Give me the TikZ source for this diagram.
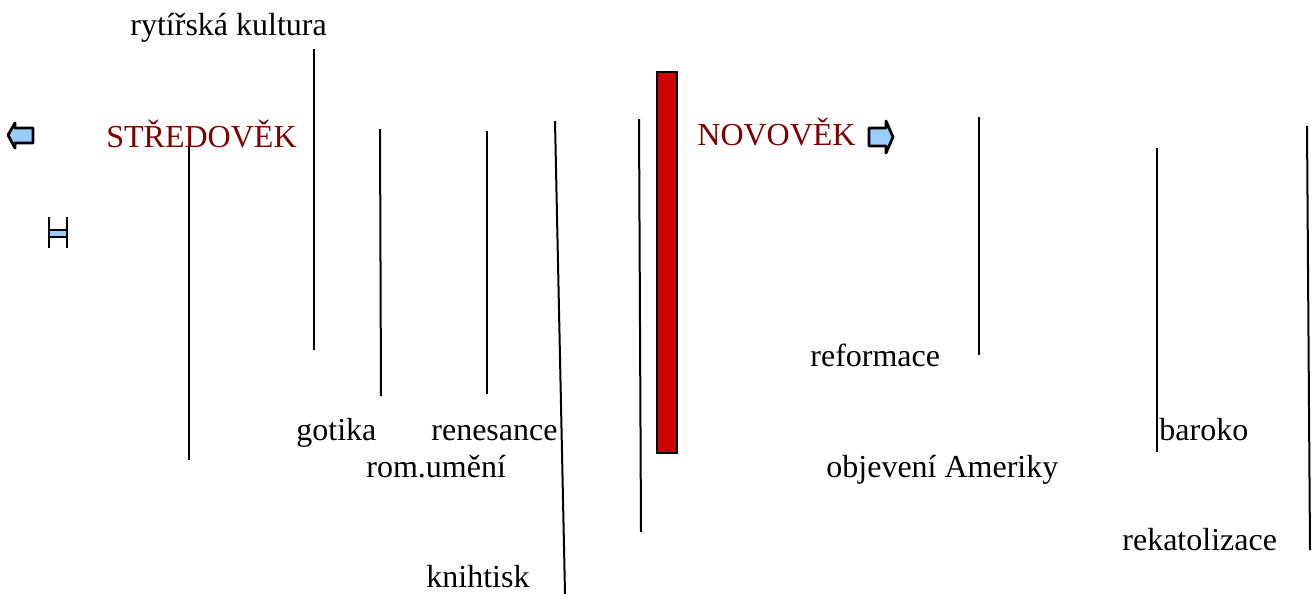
\documentclass[tikz,border=0pt]{standalone}
\usepackage{fontspec}
\setmainfont{Liberation Serif}
\usepackage{tikz}

\definecolor{tmavocervena}{RGB}{128,0,0}
\definecolor{cervena}{RGB}{204,0,0}
\definecolor{modra}{RGB}{153,204,255}

\begin{document}
\begin{tikzpicture}[x=0.5pt, y=-0.5pt, font=\fontsize{16}{19}\selectfont]
        \useasboundingbox (0,0) rectangle (1312,594);

        \draw[black, line width=1pt] (189,147) -- (189,460);
        \draw[black, line width=1pt] (314,49) -- (314,350);
        \draw[black, line width=1pt] (380,129) -- (381,396);
        \draw[black, line width=1pt] (487,131) -- (487,394);
        \draw[black, line width=1pt] (555,121) -- (565,594);
        \draw[black, line width=1pt] (639,119) -- (641,532);
        \draw[black, line width=1pt] (979,117) -- (979,355);
        \draw[black, line width=1pt] (1157,148) -- (1157,452);
        \draw[black, line width=1pt] (1307,126) -- (1310,550);

        \filldraw[fill=cervena, draw=black, line width=1.2pt] (657,72) rectangle (677,453);

        \filldraw[fill=modra, draw=black, line width=1.4pt, line join=round]
            (8,135) -- (15,123) -- (15,128) -- (33,128) -- (33,143) -- (15,143) -- (15,148) -- cycle;
        \filldraw[fill=modra, draw=black, line width=1.4pt, line join=round]
            (869,128) -- (886,128) -- (886,121) -- (893,137) -- (886,153) -- (886,146) -- (869,146) -- cycle;

        \filldraw[fill=modra, draw=black, line width=1.2pt] (49,230) rectangle (67,237);
        \draw[black, line width=1.4pt] (49,217) -- (49,248);
        \draw[black, line width=1.4pt] (67,217) -- (67,248);

        \node[tmavocervena, anchor=base west, inner sep=0pt] (stredovek) at (106,147) {STŘEDOVĚK};
        \node[tmavocervena, anchor=base west, inner sep=0pt] (novovek) at (697,145) {NOVOVĚK};

        \node[black, anchor=base west, inner sep=0pt] (rytir) at (130,35) {rytířská kultura};
        \node[black, anchor=base west, inner sep=0pt] (gotika) at (296,440) {gotika};
        \node[black, anchor=base west, inner sep=0pt] (renesance) at (431,440) {renesance};
        \node[black, anchor=base west, inner sep=0pt] (romum) at (366,477) {rom.umění};
        \node[black, anchor=base west, inner sep=0pt] (knihtisk) at (426,587) {knihtisk};
        \node[black, anchor=base west, inner sep=0pt] (reformace) at (810,366) {reformace};
        \node[black, anchor=base west, inner sep=0pt] (amerika) at (826,477) {objevení Ameriky};
        \node[black, anchor=base west, inner sep=0pt] (baroko) at (1159,440) {baroko};
        \node[black, anchor=base west, inner sep=0pt] (rekatol) at (1122,550) {rekatolizace};
\end{tikzpicture}
\end{document}
